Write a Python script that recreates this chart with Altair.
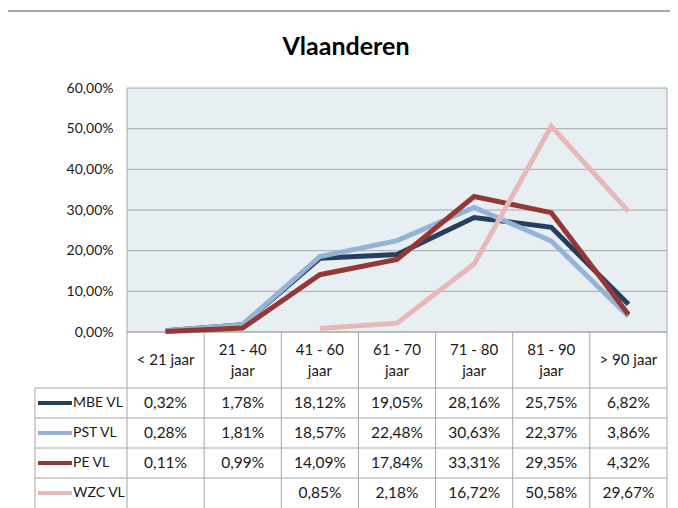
import altair as alt
import pandas as pd

categories = ["< 21 jaar", "21 - 40\njaar", "41 - 60\njaar", "61 - 70\njaar",
              "71 - 80\njaar", "81 - 90\njaar", "> 90 jaar"]
series = ["MBE VL", "PST VL", "PE VL", "WZC VL"]
mbe = [0.32, 1.78, 18.12, 19.05, 28.16, 25.75, 6.82]
pst = [0.28, 1.81, 18.57, 22.48, 30.63, 22.37, 3.86]
pe = [0.11, 0.99, 14.09, 17.84, 33.31, 29.35, 4.32]
wzc = [None, None, 0.85, 2.18, 16.72, 50.58, 29.67]
colors = ["#243F60", "#95B3D7", "#953735", "#E6B9B8"]
y_ticks = [0, 10, 20, 30, 40, 50, 60]

# layout constants (pixels, plot coordinates)
W, H = 540, 420
PLOT_H = 244
HEAD_B = 300
ROW_H = 30
LEG_L = -92
STEP = W / len(categories)
GRID = "#A6A6A6"
FONT = "Lato"
TXT = "#1A1A1A"

rows = []
for s, vals in zip(series, [mbe, pst, pe, wzc]):
    for c, v in zip(categories, vals):
        if v is not None:
            rows.append({"series": s, "cat": c, "v": v / 100})
df = pd.DataFrame(rows)

head_df = pd.DataFrame({
    "cat": categories,
    "l1": [c.split("\n")[0] for c in categories],
    "l2": [c.split("\n")[1] if "\n" in c else "" for c in categories],
    "n": [len(c.split("\n")) for c in categories],
})

xs = alt.Scale(type="point", domain=categories, range=[0, W], padding=0.5)
ys = alt.Scale(domain=[0, 0.6], range=[PLOT_H, 0])
rows_scale = alt.Scale(type="point", domain=series,
                       range=[HEAD_B + ROW_H / 2, HEAD_B + ROW_H * 3.5], padding=0)
cs = alt.Scale(domain=series, range=colors)

bg = alt.Chart(pd.DataFrame({"a": [0]})).mark_rect(fill="#E8EFF3").encode(
    x=alt.value(0), x2=alt.value(W), y=alt.value(0), y2=alt.value(PLOT_H))

axis_layer = alt.Chart(pd.DataFrame({"t": [t / 100 for t in y_ticks]})).mark_rule(
    color=GRID, strokeWidth=1).encode(
    y=alt.Y("t:Q", scale=ys, axis=alt.Axis(
        values=[t / 100 for t in y_ticks], title=None, grid=False, domain=False,
        ticks=False, labelPadding=14, labelFont=FONT, labelFontSize=14,
        labelColor=TXT,
        labelExpr="replace(format(datum.value, '.2%'), '.', ',')")),
    x=alt.value(0), x2=alt.value(W))

# table geometry (structural lines)
hl = [{"x": 0, "x2": W, "y": PLOT_H}] + [
    {"x": LEG_L, "x2": W, "y": HEAD_B + ROW_H * k} for k in range(4)]
vl = [{"x": STEP * k, "y": PLOT_H if k not in (0, 7) else 0, "y2": H} for k in range(8)]
vl.append({"x": LEG_L, "y": HEAD_B, "y2": H})
hlines = alt.Chart(pd.DataFrame(hl)).mark_rule(color=GRID, strokeWidth=1).encode(
    x=alt.X("x:Q", scale=None), x2="x2:Q", y=alt.Y("y:Q", scale=None))
vlines = alt.Chart(pd.DataFrame(vl)).mark_rule(color=GRID, strokeWidth=1).encode(
    x=alt.X("x:Q", scale=None), y=alt.Y("y:Q", scale=None), y2="y2:Q")

lines = alt.Chart(df).mark_line(strokeWidth=5, strokeJoin="miter", strokeCap="butt").encode(
    x=alt.X("cat:N", scale=xs, sort=categories, axis=None),
    y=alt.Y("v:Q", scale=ys, axis=None),
    color=alt.Color("series:N", scale=cs, legend=None),
    detail="series:N",
)
line_layers = [lines.transform_filter(alt.datum.series == s) for s in series]

HC = (PLOT_H + HEAD_B) / 2
head_base = alt.Chart(head_df).mark_text(
    font=FONT, fontSize=15, color=TXT, baseline="middle")
head1 = head_base.transform_filter(alt.datum.n == 1).encode(
    x=alt.X("cat:N", scale=xs, axis=None), y=alt.value(HC), text="l1:N")
head2a = head_base.transform_filter(alt.datum.n == 2).encode(
    x=alt.X("cat:N", scale=xs, axis=None), y=alt.value(HC - 10), text="l1:N")
head2b = head_base.transform_filter(alt.datum.n == 2).encode(
    x=alt.X("cat:N", scale=xs, axis=None), y=alt.value(HC + 11), text="l2:N")

cells = alt.Chart(df).transform_calculate(
    label="replace(format(datum.v, '.2%'), '.', ',')").mark_text(
    font=FONT, fontSize=15.5, color=TXT, baseline="middle").encode(
    x=alt.X("cat:N", scale=xs, axis=None),
    y=alt.Y("series:N", scale=rows_scale, axis=None),
    text="label:N")

leg_df = pd.DataFrame({"series": series})
leg_lines = alt.Chart(leg_df).mark_rule(strokeWidth=4).encode(
    x=alt.value(LEG_L + 3), x2=alt.value(LEG_L + 37),
    y=alt.Y("series:N", scale=rows_scale, axis=None),
    color=alt.Color("series:N", scale=cs, legend=None))
leg_text = alt.Chart(leg_df).mark_text(
    font=FONT, fontSize=14, align="left", baseline="middle", color=TXT).encode(
    x=alt.value(LEG_L + 38),
    y=alt.Y("series:N", scale=rows_scale, axis=None),
    text="series:N")

frame = alt.Chart(pd.DataFrame({"a": [0]})).mark_rule(color="#8C8C8C", strokeWidth=1.5)
frame_top = frame.encode(x=alt.value(-120), x2=alt.value(W + 20), y=alt.value(-77))
frame_left = frame.encode(x=alt.value(-120), y=alt.value(-77), y2=alt.value(H))

title = alt.Chart(pd.DataFrame({"t": ["Vlaanderen"]})).mark_text(
    font=FONT, fontSize=25, fontWeight="bold", color="#000000", baseline="middle").encode(
    x=alt.value(219), y=alt.value(-41), text="t:N")

chart = alt.layer(
    bg, axis_layer, hlines, vlines, *line_layers, head1, head2a, head2b, cells,
    leg_lines, leg_text, frame_top, frame_left, title
).resolve_scale(y="independent").properties(
    width=W, height=H,
    autosize=alt.AutoSizeParams(type="none"),
    padding={"left": 119, "top": 80, "right": 3, "bottom": 0},
).configure_view(stroke=None, clip=False)

chart.save("out.html", embed_options={"renderer": "svg", "actions": False})
